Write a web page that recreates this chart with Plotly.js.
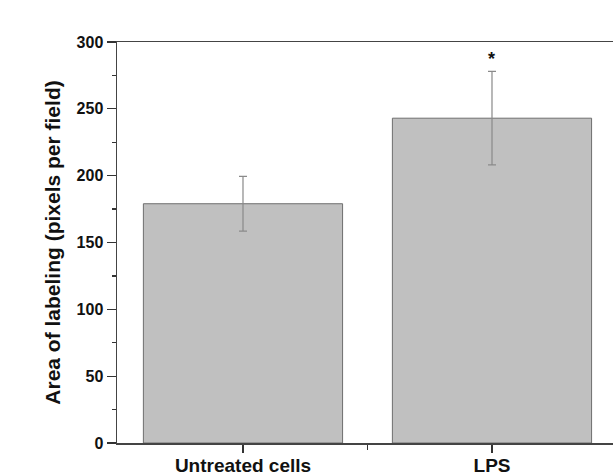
<!DOCTYPE html>
<html>
<head>
<meta charset="utf-8">
<script src="https://cdn.plot.ly/plotly-3.0.1.min.js"></script>
<style>html,body{margin:0;padding:0;overflow:hidden;background:#fff}</style>
</head>
<body>
<div id="chart" style="width:613px;height:476px"></div>
<script>
const categories = ['Untreated cells', 'LPS'];
const values = [179, 243];
const errors = [20.5, 35];
const significance = ['', '*'];
const yTicks = [0, 50, 100, 150, 200, 250, 300];

const xs = categories.map((_, i) => i);

const trace = {
  type: 'bar',
  x: xs,
  y: values,
  width: 0.8,
  marker: {color: '#c0c0c0', line: {color: '#6e6e6e', width: 1}},
  error_y: {type: 'data', array: errors, visible: true, color: '#8a8a8a', thickness: 1.2, width: 4},
  hoverinfo: 'none'
};

const annotations = xs.filter((_, i) => significance[i]).map(i => ({
  x: i, y: values[i] + errors[i], yref: 'y', xref: 'x',
  text: '<b>' + significance[i] + '</b>', showarrow: false,
  yanchor: 'bottom', yshift: 0,
  font: {family: 'Liberation Sans, Arial, sans-serif', size: 18, color: '#111'}
}));

const layout = {
  width: 613, height: 476,
  margin: {l: 117, r: 0, t: 42, b: 33},
  paper_bgcolor: '#fff', plot_bgcolor: '#fff',
  showlegend: false,
  font: {family: 'Liberation Sans, Arial, sans-serif', color: '#111'},
  xaxis: {
    range: [-0.506, 1.486],
    tickmode: 'array', tickvals: xs, ticktext: categories.map(c => '<b>' + c + '</b>'),
    ticks: 'outside', ticklen: 8, tickwidth: 1.2, tickcolor: '#333',
    ticklabelstandoff: -3,
    minor: {tickmode: 'array', tickvals: [0.5], ticks: 'outside', ticklen: 5, tickwidth: 1.2, tickcolor: '#333'},
    showline: true, linecolor: '#444', linewidth: 1.5, mirror: true,
    showgrid: false, zeroline: false,
    tickfont: {size: 19, color: '#111'}
  },
  yaxis: {
    range: [0, 300],
    tickmode: 'array', tickvals: yTicks, ticktext: yTicks.map(v => '<b>' + v + '</b>'),
    ticks: 'outside', ticklen: 9, tickwidth: 1.2, tickcolor: '#333',
    minor: {dtick: 25, tick0: 0, ticks: 'outside', ticklen: 4, tickwidth: 1.2, tickcolor: '#333'},
    showline: true, linecolor: '#444', linewidth: 1.5, mirror: false,
    showgrid: false, zeroline: false,
    tickfont: {size: 16, color: '#111'},
    title: {text: '<b>Area of labeling (pixels per field)</b>', font: {size: 21, color: '#111'}, standoff: 10}
  },
  annotations: annotations
};

Plotly.newPlot('chart', [trace], layout, {staticPlot: true, displayModeBar: false});
</script>
</body>
</html>
